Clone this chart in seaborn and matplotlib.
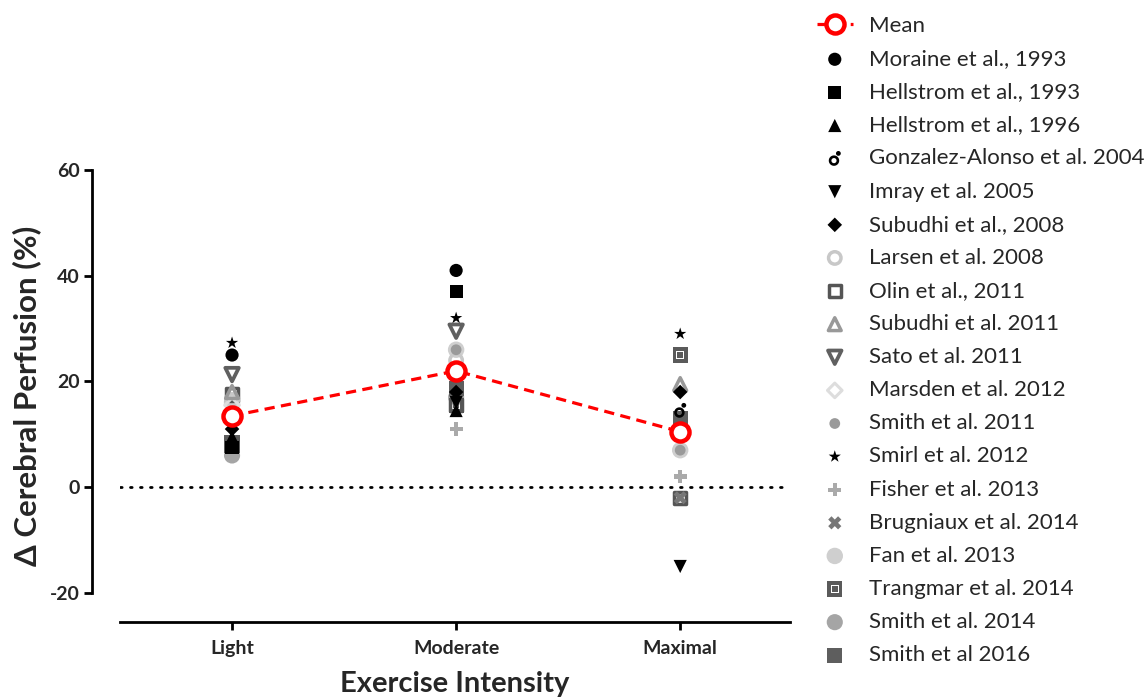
import numpy as np
import pandas as pd
import matplotlib
matplotlib.use("Agg")
import matplotlib.pyplot as plt
from matplotlib.path import Path
import seaborn as sns

nan = np.nan
categories = ["Light", "Moderate", "Maximal"]
mean_vals = [13.5, 22.0, 10.5]

moraine_1993 = [25.0, 41.0, nan]
hellstrom_1993 = [7.5, 37.0, nan]
hellstrom_1996 = [9.5, 14.5, nan]
gonzalez_2004 = [nan, nan, 14.5]
imray_2005 = [nan, 16.0, -15.0]
subudhi_2008 = [11.0, 18.0, 18.0]
larsen_2008 = [16.5, 24.0, nan]
olin_2011 = [17.5, 15.5, -2.0]
subudhi_2011 = [18.0, nan, 19.5]
sato_2011 = [21.3, 29.5, nan]
marsden_2012 = [15.5, nan, nan]
smith_2011 = [nan, 26.0, 7.0]
smirl_2012 = [27.3, 32.0, 29.0]
fisher_2013 = [nan, 11.0, 2.0]
brugniaux_2014 = [nan, nan, -2.0]
fan_2013 = [16.0, 26.0, 7.0]
trangmar_2014 = [8.0, 15.5, 25.0]
smith_2014 = [6.0, 17.0, nan]
smith_2016 = [8.5, 18.7, 13.0]

study_names = ["Moraine et al., 1993", "Hellstrom et al., 1993", "Hellstrom et al., 1996",
               "Gonzalez-Alonso et al. 2004", "Imray et al. 2005", "Subudhi et al., 2008",
               "Larsen et al. 2008", "Olin et al., 2011", "Subudhi et al. 2011",
               "Sato et al. 2011", "Marsden et al. 2012", "Smith et al. 2011",
               "Smirl et al. 2012", "Fisher et al. 2013", "Brugniaux et al. 2014",
               "Fan et al. 2013", "Trangmar et al. 2014", "Smith et al. 2014",
               "Smith et al 2016"]
study_values = [moraine_1993, hellstrom_1993, hellstrom_1996, gonzalez_2004, imray_2005,
                subudhi_2008, larsen_2008, olin_2011, subudhi_2011, sato_2011,
                marsden_2012, smith_2011, smirl_2012, fisher_2013, brugniaux_2014,
                fan_2013, trangmar_2014, smith_2014, smith_2016]

# custom markers
def ring(cx, cy, r, n=60, ccw=True):
    t = np.linspace(0, 2*np.pi, n, endpoint=False)
    if not ccw:
        t = t[::-1]
    v = np.column_stack([cx + r*np.cos(t), cy + r*np.sin(t)])
    v = np.vstack([v, v[:1]])
    codes = [Path.MOVETO] + [Path.LINETO]*(n-1) + [Path.CLOSEPOLY]
    return v, codes

def sq(h, ccw=True):
    v = np.array([[-h, -h], [h, -h], [h, h], [-h, h]])
    if not ccw:
        v = v[::-1]
    v = np.vstack([v, v[:1]])
    return v, [Path.MOVETO, Path.LINETO, Path.LINETO, Path.LINETO, Path.CLOSEPOLY]

def compound(parts):
    verts = np.vstack([p[0] for p in parts])
    codes = sum([p[1] for p in parts], [])
    return Path(verts, codes)

gonz_marker = compound([ring(-0.1, -0.25, 0.65), ring(-0.1, -0.25, 0.32, ccw=False),
                        ring(0.45, 0.65, 0.3)])
trang_marker = compound([sq(1.0), sq(0.55, ccw=False), sq(0.42)])

styles = {
    "Moraine et al., 1993": dict(marker="o", color="#000000", s=90),
    "Hellstrom et al., 1993": dict(marker="s", color="#000000", s=90),
    "Hellstrom et al., 1996": dict(marker="^", color="#000000", s=90),
    "Gonzalez-Alonso et al. 2004": dict(marker=gonz_marker, color="#000000", s=120),
    "Imray et al. 2005": dict(marker="v", color="#000000", s=90),
    "Subudhi et al., 2008": dict(marker="D", color="#000000", s=55),
    "Larsen et al. 2008": dict(marker="o", color="none", edge="#c8c8c8", s=80, lw=2.5),
    "Olin et al., 2011": dict(marker="s", color="none", edge="#555555", s=80, lw=2.5),
    "Subudhi et al. 2011": dict(marker="^", color="none", edge="#999999", s=85, lw=2.5),
    "Sato et al. 2011": dict(marker="v", color="none", edge="#606060", s=95, lw=2.7),
    "Marsden et al. 2012": dict(marker="D", color="none", edge="#dddddd", s=55, lw=2.2),
    "Smith et al. 2011": dict(marker="o", color="#9a9a9a", s=60),
    "Smirl et al. 2012": dict(marker="*", color="#000000", s=85),
    "Fisher et al. 2013": dict(marker="P", color="#aaaaaa", s=90),
    "Brugniaux et al. 2014": dict(marker="X", color="#777777", s=90),
    "Fan et al. 2013": dict(marker="o", color="#cfcfcf", s=140),
    "Trangmar et al. 2014": dict(marker=trang_marker, color="#5a5a5a", s=120),
    "Smith et al. 2014": dict(marker="o", color="#a5a5a5", s=135),
    "Smith et al 2016": dict(marker="s", color="#5e5e5e", s=120),
}

sns.set_theme(style="ticks")
plt.rcParams["font.family"] = ["Lato", "DejaVu Sans"]

fig = plt.figure(figsize=(11.48, 6.97), dpi=100)
ax = fig.add_axes([120/1148, 1-622/697, 670/1148, (622-170)/697])

for s in ["top", "right"]:
    ax.spines[s].set_visible(False)
ax.spines["left"].set_position(("outward", 20))

xpos = np.arange(len(categories))

draw_order = ["Smith et al. 2014", "Fan et al. 2013", "Smith et al 2016", "Trangmar et al. 2014",
              "Olin et al., 2011", "Larsen et al. 2008", "Marsden et al. 2012",
              "Subudhi et al. 2011", "Smith et al. 2011", "Sato et al. 2011",
              "Fisher et al. 2013", "Brugniaux et al. 2014", "Moraine et al., 1993",
              "Hellstrom et al., 1993", "Hellstrom et al., 1996", "Imray et al. 2005",
              "Gonzalez-Alonso et al. 2004", "Subudhi et al., 2008", "Smirl et al. 2012"]

handles = {}
for name in draw_order:
    vals = study_values[study_names.index(name)]
    st = styles[name]
    df = pd.DataFrame({"x": xpos, "y": vals}).dropna()
    kw = dict(marker=st["marker"], s=st["s"], zorder=3)
    if st["color"] == "none":
        kw.update(facecolor="none", edgecolor=st["edge"], linewidth=st.get("lw", 2))
    else:
        kw.update(color=st["color"], edgecolor="none", linewidth=0)
    sns.scatterplot(data=df, x="x", y="y", ax=ax, legend=False, **kw)
    handles[name] = ax.collections[-1]

# mean line
mean_df = pd.DataFrame({"x": xpos, "y": mean_vals})
sns.lineplot(data=mean_df, x="x", y="y", ax=ax, color="#ff0000", linewidth=2.3,
             dashes=False, linestyle=(0, (3.2, 2.0)), marker="o", markersize=13,
             markerfacecolor="white", markeredgecolor="#ff0000", markeredgewidth=3.2,
             zorder=5, legend=False)
mean_line = ax.lines[-1]

# zero line
ax.axhline(0, color="black", linewidth=2, linestyle=(0, (0.6, 3.0)),
           dash_capstyle="round", zorder=1)

ax.set_xlim(-0.5, 2.49)
ax.set_ylim(-25.5, 60)
ax.spines["left"].set_bounds(-20, 60)
ax.spines["left"].set_linewidth(2)
ax.spines["bottom"].set_linewidth(2)
ax.spines["left"].set_color("black")
ax.spines["bottom"].set_color("black")

ax.set_xticks(xpos)
ax.set_xticklabels(categories, fontsize=14, fontweight="bold")
ax.set_yticks([-20, 0, 20, 40, 60])
ax.set_yticklabels(["-20", "0", "20", "40", "60"], fontsize=14, fontweight="bold")
ax.tick_params(axis="x", length=6, width=2, color="black", pad=7)
ax.tick_params(axis="y", length=6, width=2, color="black", pad=3)

ax.set_xlabel("Exercise Intensity", fontsize=21, fontweight="bold", labelpad=10)
ax.set_ylabel("\u0394 Cerebral Perfusion (%)", fontsize=22.5, fontweight="bold", labelpad=6)

leg_handles = [mean_line] + [handles[n] for n in study_names]
leg_labels = ["Mean"] + study_names
fig.legend(leg_handles, leg_labels, loc="upper left",
           bbox_to_anchor=(817/1148, 1-16/697), frameon=False, fontsize=16,
           labelspacing=0.59, handletextpad=0.75, handlelength=1.6, borderaxespad=0,
           borderpad=0)

fig.savefig("out.png", dpi=100)
